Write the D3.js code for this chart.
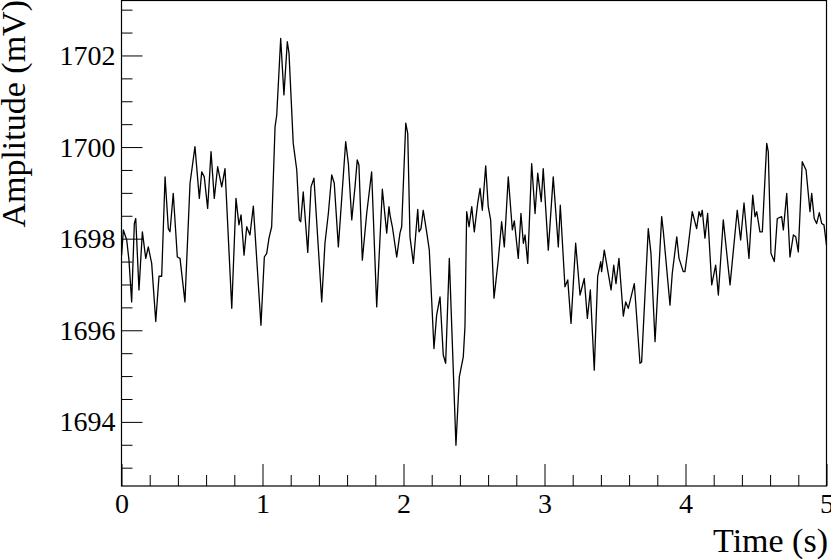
<!DOCTYPE html>
<html>
<head>
<meta charset="utf-8">
<script src="https://cdn.jsdelivr.net/npm/d3@7"></script>
<style>
  body { margin: 0; background: #fff; }
  svg { display: block; }
  .axis text { font-family: "Liberation Serif", "Times New Roman", serif; font-size: 28px; fill: #000; }
  .axis line { stroke: #000; stroke-width: 1; }
  .title { font-family: "Liberation Serif", "Times New Roman", serif; font-size: 34px; fill: #000; }
</style>
</head>
<body>
<div class="container"></div>
<script>
// samples: time (s) and amplitude (mV)
var times = [
  0.001, 0.013, 0.037, 0.053, 0.072, 0.091, 0.101, 0.124, 0.148, 0.172,
  0.190, 0.214, 0.243, 0.266, 0.285, 0.309, 0.332, 0.344, 0.367, 0.396,
  0.415, 0.450, 0.486, 0.521, 0.552, 0.569, 0.587, 0.611, 0.635, 0.658,
  0.682, 0.711, 0.734, 0.782, 0.812, 0.833, 0.848, 0.869, 0.888, 0.911,
  0.935, 0.989, 1.013, 1.030, 1.046, 1.065, 1.089, 1.101, 1.129, 1.152,
  1.176, 1.188, 1.218, 1.243, 1.261, 1.271, 1.289, 1.321, 1.344, 1.365,
  1.420, 1.443, 1.467, 1.491, 1.509, 1.538, 1.590, 1.609, 1.633, 1.656,
  1.672, 1.684, 1.708, 1.739, 1.774, 1.810, 1.850, 1.881, 1.897, 1.904,
  1.921, 1.952, 1.975, 1.987, 2.016, 2.030, 2.046, 2.070, 2.101, 2.110,
  2.124, 2.140, 2.165, 2.183, 2.216, 2.235, 2.259, 2.282, 2.299, 2.325,
  2.372, 2.396, 2.424, 2.436, 2.448, 2.465, 2.484, 2.502, 2.526, 2.543,
  2.559, 2.583, 2.601, 2.618, 2.642, 2.672, 2.696, 2.715, 2.743, 2.772,
  2.786, 2.814, 2.833, 2.850, 2.862, 2.881, 2.909, 2.933, 2.952, 2.977,
  2.991, 3.027, 3.062, 3.098, 3.112, 3.145, 3.165, 3.188, 3.221, 3.252,
  3.282, 3.304, 3.325, 3.353, 3.377, 3.399, 3.405, 3.424, 3.472, 3.491,
  3.507, 3.528, 3.559, 3.576, 3.594, 3.637, 3.677, 3.689, 3.736, 3.755,
  3.784, 3.831, 3.843, 3.890, 3.906, 3.938, 3.954, 3.984, 3.996, 4.016,
  4.048, 4.079, 4.096, 4.108, 4.119, 4.138, 4.157, 4.186, 4.214, 4.233,
  4.268, 4.316, 4.367, 4.391, 4.415, 4.450, 4.477, 4.493, 4.505, 4.528,
  4.545, 4.576, 4.587, 4.606, 4.630, 4.651, 4.682, 4.694, 4.718, 4.741,
  4.765, 4.782, 4.800, 4.828, 4.855, 4.883, 4.895, 4.913, 4.930, 4.949,
  4.966, 4.982, 5.000
];
var amplitudes = [
  1697.64, 1698.19, 1697.97, 1697.53, 1696.62, 1698.33, 1698.44, 1696.88, 1698.15, 1697.57,
  1697.82, 1697.46, 1696.19, 1697.18, 1697.18, 1699.35, 1698.22, 1698.15, 1698.99, 1697.60,
  1697.57, 1696.62, 1699.21, 1700.01, 1698.88, 1699.46, 1699.35, 1698.66, 1699.90, 1698.88,
  1699.57, 1699.13, 1699.53, 1696.48, 1698.88, 1698.30, 1698.52, 1697.64, 1698.26, 1698.08,
  1698.71, 1696.11, 1697.60, 1697.68, 1698.01, 1698.26, 1700.44, 1700.70, 1702.37, 1701.14,
  1702.30, 1702.05, 1700.08, 1699.50, 1698.41, 1698.37, 1699.02, 1697.70, 1699.13, 1699.32,
  1696.62, 1697.90, 1698.55, 1699.39, 1699.21, 1697.82, 1700.12, 1699.64, 1698.41, 1699.13,
  1699.72, 1699.61, 1697.53, 1698.55, 1699.46, 1696.51, 1699.08, 1698.12, 1698.70, 1698.52,
  1698.26, 1697.60, 1698.12, 1698.26, 1700.52, 1700.30, 1698.04, 1697.46, 1698.64, 1698.15,
  1698.22, 1698.62, 1698.13, 1697.75, 1695.60, 1696.33, 1696.73, 1695.46, 1695.28, 1697.57,
  1693.49, 1694.98, 1695.42, 1696.08, 1698.59, 1698.26, 1698.70, 1698.15, 1698.77, 1699.10,
  1698.62, 1699.59, 1698.70, 1698.41, 1696.70, 1697.53, 1698.37, 1697.82, 1699.35, 1698.19,
  1698.39, 1697.57, 1698.55, 1697.90, 1698.08, 1697.46, 1699.64, 1698.55, 1699.43, 1698.81,
  1699.53, 1697.75, 1699.35, 1697.82, 1698.73, 1696.95, 1697.10, 1696.15, 1697.90, 1696.77,
  1697.13, 1696.26, 1696.88, 1695.13, 1697.17, 1697.50, 1697.28, 1697.75, 1696.88, 1697.42,
  1697.02, 1697.57, 1696.31, 1696.62, 1696.48, 1697.02, 1695.28, 1695.31, 1698.22, 1697.68,
  1695.75, 1698.48, 1698.15, 1696.55, 1697.24, 1698.04, 1697.57, 1697.28, 1697.28, 1697.75,
  1698.59, 1698.22, 1698.59, 1698.48, 1698.62, 1698.01, 1698.55, 1696.99, 1697.42, 1696.77,
  1698.41, 1696.99, 1698.62, 1697.97, 1698.78, 1697.57, 1698.95, 1698.48, 1698.59, 1698.15,
  1698.15, 1700.08, 1699.90, 1697.68, 1697.50, 1698.44, 1698.48, 1698.19, 1698.99, 1697.60,
  1698.08, 1698.04, 1697.71, 1699.68, 1699.50, 1698.59, 1698.99, 1698.44, 1698.33, 1698.57,
  1698.33, 1698.30, 1697.86
];

var xMajorTicks = [0, 1, 2, 3, 4, 5];
var yMajorTicks = [1694, 1696, 1698, 1700, 1702];

var translate = function (x, y) {
    return 'translate(' + x + ', ' + y + ')';
};

var visualize = function () {
    const WIDTH = 831;
    const HEIGHT = 559;
    const LEFT = 121.5, RIGHT = 826.5, TOP = 0.5, BOTTOM = 486;

    var xScale = d3.scaleLinear().domain([0, 5]).range([LEFT, RIGHT]);
    var yScale = d3.scaleLinear().domain([1692.6, 1703.2]).range([BOTTOM, TOP]);

    var svg = d3.select('.container').append('svg')
        .attr('width', WIDTH)
        .attr('height', HEIGHT);

    var xMinor = d3.range(0, 5.001, 0.2).filter(function (d) { return Math.abs(d - Math.round(d)) > 1e-6; });
    var yMinor = d3.range(1693, 1703.01, 0.5).filter(function (d) { return d % 2 !== 0; });

    // minor ticks
    svg.append('g').attr('class', 'axis').attr('transform', translate(0, BOTTOM))
        .call(d3.axisBottom(xScale).tickValues(xMinor).tickSize(-11).tickSizeOuter(0).tickFormat(''))
        .select('.domain').remove();
    svg.append('g').attr('class', 'axis').attr('transform', translate(LEFT, 0))
        .call(d3.axisLeft(yScale).tickValues(yMinor).tickSize(-11).tickSizeOuter(0).tickFormat(''))
        .select('.domain').remove();

    // major ticks with labels
    svg.append('g').attr('class', 'axis').attr('transform', translate(0, BOTTOM))
        .call(d3.axisBottom(xScale).tickValues(xMajorTicks).tickSize(-22).tickSizeOuter(0).tickPadding(7).tickFormat(d3.format('d')))
        .select('.domain').remove();
    svg.append('g').attr('class', 'axis').attr('transform', translate(LEFT, 0))
        .call(d3.axisLeft(yScale).tickValues(yMajorTicks).tickSize(-21).tickSizeOuter(0).tickPadding(6).tickFormat(d3.format('d')))
        .select('.domain').remove();

    svg.selectAll('.axis text').attr('font-family', null).attr('font-size', null);

    // frame
    svg.append('rect')
        .attr('x', LEFT).attr('y', TOP)
        .attr('width', RIGHT - LEFT).attr('height', BOTTOM - TOP)
        .attr('fill', 'none').attr('stroke', '#000').attr('stroke-width', 1.2);

    var points = times.map(function (t, i) { return {x: t, y: amplitudes[i]}; });
    var line = d3.line()
        .x(function (d) { return xScale(d.x); })
        .y(function (d) { return yScale(d.y); });

    svg.append('path')
        .datum(points)
        .attr('d', line)
        .attr('fill', 'none')
        .attr('stroke', '#000')
        .attr('stroke-width', 1.3)
        .attr('stroke-linejoin', 'round');

    svg.append('text').attr('class', 'title')
        .attr('x', 828).attr('y', 552)
        .attr('text-anchor', 'end')
        .text('Time (s)');

    svg.append('text').attr('class', 'title')
        .attr('transform', translate(25, 0) + ' rotate(-90)')
        .attr('text-anchor', 'end')
        .text('Amplitude (mV)');
};

window.onload = visualize;
</script>
</body>
</html>
